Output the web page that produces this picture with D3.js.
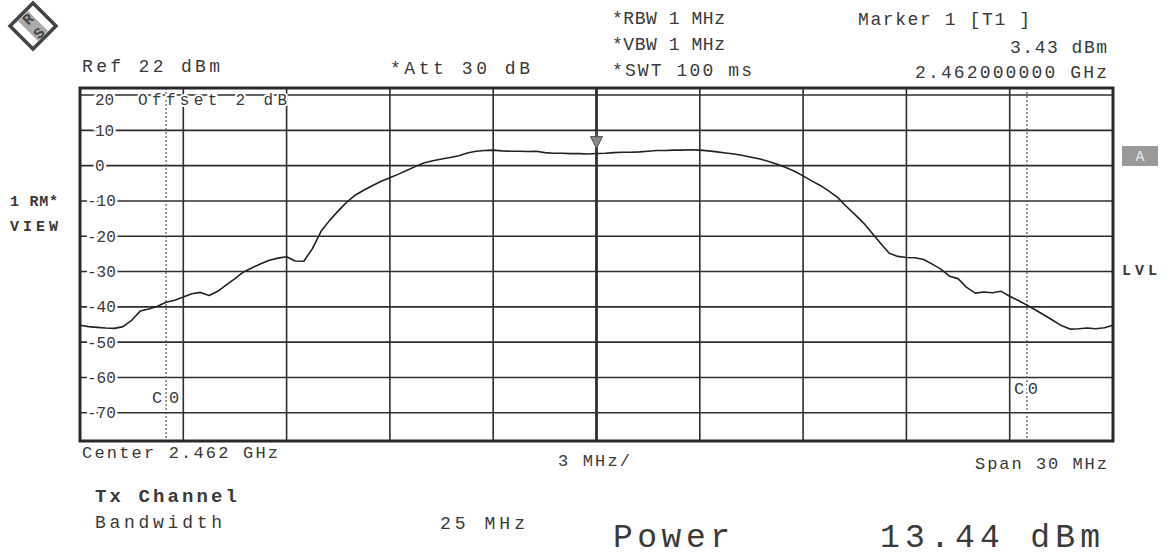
<!DOCTYPE html>
<html><head><meta charset="utf-8">
<script src="https://cdn.jsdelivr.net/npm/d3@7"></script>
<style>html,body{margin:0;padding:0;background:#fff;}svg{display:block;}</style>
</head><body>
<svg id="c" width="1165" height="557"></svg>
<script>
// Frequency offset from centre (MHz), span 30 MHz around 2.462 GHz
const freqMHz = [-15,-14.75,-14.5,-14.25,-14,-13.75,-13.5,-13.25,-13,-12.75,-12.5,-12.25,-12,-11.75,-11.5,-11.25,-11,-10.75,-10.5,-10.25,-10,-9.75,-9.5,-9.25,-9,-8.75,-8.5,-8.25,-8,-7.75,-7.5,-7.25,-7,-6.75,-6.5,-6.25,-6,-5.75,-5.5,-5.25,-5,-4.75,-4.5,-4.25,-4,-3.75,-3.5,-3.25,-3,-2.75,-2.5,-2.25,-2,-1.75,-1.5,-1.25,-1,-0.75,-0.5,-0.25,0,0.25,0.5,0.75,1,1.25,1.5,1.75,2,2.25,2.5,2.75,3,3.25,3.5,3.75,4,4.25,4.5,4.75,5,5.25,5.5,5.75,6,6.25,6.5,6.75,7,7.25,7.5,7.75,8,8.25,8.5,8.75,9,9.25,9.5,9.75,10,10.25,10.5,10.75,11,11.25,11.5,11.75,12,12.25,12.5,12.75,13,13.25,13.5,13.75,14,14.25,14.5,14.75,15];
// Trace level (dBm)
const levelDbm = [-45.2,-45.6,-45.8,-46.0,-46.1,-45.6,-43.8,-41.2,-40.6,-39.8,-38.7,-38.1,-37.2,-36.3,-35.9,-36.8,-35.6,-33.8,-32.0,-30.1,-28.9,-27.8,-26.8,-26.2,-25.8,-27.0,-27.1,-23.5,-18.6,-15.5,-12.8,-10.3,-8.3,-6.9,-5.6,-4.4,-3.4,-2.4,-1.3,-0.2,0.8,1.4,1.9,2.3,2.8,3.6,4.1,4.3,4.4,4.2,4.1,4.1,4.0,4.1,3.7,3.5,3.5,3.4,3.4,3.3,3.43,3.5,3.7,3.8,3.8,3.9,4.1,4.3,4.3,4.4,4.4,4.5,4.4,4.2,3.9,3.6,3.3,2.9,2.4,1.9,1.2,0.4,-0.5,-1.6,-2.9,-4.3,-5.6,-7.2,-9.0,-11.5,-13.8,-16.2,-19.1,-22.0,-24.8,-25.7,-26.0,-26.1,-26.6,-27.9,-29.3,-31.3,-32.0,-34.5,-36.1,-35.8,-36.0,-35.6,-37.0,-38.2,-39.5,-40.9,-42.3,-43.8,-45.3,-46.3,-46.2,-46.0,-46.2,-45.9,-45.2];
const yTickLabels = [20,10,0,-10,-20,-30,-40,-50,-60,-70];
const xGridMHz = [-12,-9,-6,-3,0,3,6,9,12];
const channelEdgesMHz = [-12.5, 12.5];
const markerMHz = 0, markerDbm = 3.43;

const svg = d3.select("#c");
const FONT = "'Liberation Mono','DejaVu Sans Mono',monospace";
const INK = "#3a3a3a";
const L = 80, R = 1113, T = 88, B = 441;
const x = d3.scaleLinear().domain([-15, 15]).range([L, R]);
const y = d3.scaleLinear().domain([-78, 22]).range([B, T]);

function txt(s, x0, x1, base, size, opts = {}) {
  const t = svg.append("text").attr("x", x0).attr("y", base).text(s)
    .attr("font-family", FONT).attr("font-size", size)
    .attr("fill", opts.fill || INK).attr("font-weight", opts.weight || "normal");
  if (x1 != null) t.attr("textLength", x1 - x0).attr("lengthAdjust", "spacing");
  if (opts.halo) t.attr("stroke", "#fff").attr("stroke-width", opts.halo).attr("paint-order", "stroke");
  return t;
}

// Logo
const lg = svg.append("g").attr("transform", "translate(33,26)");
lg.append("path").attr("d", "M0,-23 L23,0 L0,23 L-23,0 Z").attr("fill", "#fff").attr("stroke", "#444").attr("stroke-width", 3.5);
lg.append("path").attr("d", "M-15,-5 L5,15 L15,5 L-5,-15 Z").attr("fill", "#aaa").attr("stroke", "none");
lg.append("text").attr("x", -5).attr("y", -2).attr("font-family", FONT).attr("font-size", 15).attr("font-weight", "bold").attr("fill", "#444").attr("text-anchor", "middle").attr("transform", "rotate(-45,-5,-7)").text("R");
lg.append("text").attr("x", 6).attr("y", 12).attr("font-family", FONT).attr("font-size", 15).attr("font-weight", "bold").attr("fill", "#444").attr("text-anchor", "middle").attr("transform", "rotate(-45,6,7)").text("S");

// Header texts
txt("Ref  22 dBm", 82, 220, 72, 18);
txt("*Att  30 dB", 390, 530, 74, 18);
txt("*RBW 1 MHz", 612, 725, 24, 18);
txt("*VBW 1 MHz", 612, 725, 50, 18);
txt("*SWT 100 ms", 612, 752, 76, 18);
txt("Marker 1 [T1 ]", 858, 1030, 25, 18);
txt(markerDbm.toFixed(2) + " dBm", 1010, 1107, 53, 18);
txt("2.462000000 GHz", 915, 1107, 78, 18);

// Grid
const grid = svg.append("g");
grid.selectAll("line.h").data(yTickLabels).join("line")
  .attr("x1", L).attr("x2", R).attr("y1", d => y(d)).attr("y2", d => y(d))
  .attr("stroke", "#2e2e2e").attr("stroke-width", 1.6);
grid.selectAll("line.v").data(xGridMHz).join("line")
  .attr("y1", T).attr("y2", B).attr("x1", d => x(d)).attr("x2", d => x(d))
  .attr("stroke", "#2e2e2e").attr("stroke-width", d => d === 0 ? 2.8 : 1.6);

// Channel edge (C0) lines
grid.selectAll("line.c0").data(channelEdgesMHz).join("line")
  .attr("y1", T).attr("y2", B).attr("x1", d => x(d)).attr("x2", d => x(d))
  .attr("stroke", "#555").attr("stroke-width", 1.2).attr("stroke-dasharray", "2,2");

// Frame
svg.append("rect").attr("x", L).attr("y", T).attr("width", R - L).attr("height", B - T)
  .attr("fill", "none").attr("stroke", "#2a2a2a").attr("stroke-width", 3);

// Y labels
yTickLabels.forEach(v => {
  const s = String(v);
  const x0 = v < 0 ? 87 : 95;
  txt(s, x0, null, y(v) + (v === 20 ? 10 : 5.5), 16, { halo: 5 });
});
txt("Offset  2 dB", 138, 287, 105, 16, { halo: 4 });

// C0 labels
txt("C0", x(channelEdgesMHz[0]) - 14, x(channelEdgesMHz[0]) + 13, 403, 17, { halo: 4 });
txt("C0", x(channelEdgesMHz[1]) - 13, x(channelEdgesMHz[1]) + 11, 394, 17, { halo: 4 });

// Trace
const line = d3.line().x((d, i) => x(freqMHz[i])).y(d => y(d));
svg.append("path").datum(levelDbm).attr("d", line)
  .attr("fill", "none").attr("stroke", "#222").attr("stroke-width", 1.6).attr("stroke-linejoin", "round");

// Marker symbol
const mx = x(markerMHz), my = y(markerDbm);
svg.append("path").attr("d", `M${mx - 6},${my - 17} L${mx + 6},${my - 17} L${mx},${my - 5} Z`)
  .attr("fill", "#888").attr("stroke", "#555").attr("stroke-width", 1);
svg.append("line").attr("x1", mx).attr("x2", mx).attr("y1", my - 22).attr("y2", my - 17).attr("stroke", "#555").attr("stroke-width", 1.5);

// Side labels
txt("1 RM*", 10, 58, 206, 15, { weight: "bold" });
txt("VIEW", 10, 58, 231, 15, { weight: "bold" });
txt("LVL", 1122, 1157, 275, 15, { weight: "bold" });
svg.append("rect").attr("x", 1122).attr("y", 146).attr("width", 36).attr("height", 20).attr("fill", "#9a9a9a");
svg.append("text").attr("x", 1140).attr("y", 161).attr("text-anchor", "middle").attr("font-family", FONT)
  .attr("font-size", 15).attr("fill", "#e8e8e8").text("A");

// Footer texts
txt("Center 2.462 GHz", 82, 278, 458, 17);
txt("3 MHz/", 558, 630, 466, 17);
txt("Span 30 MHz", 975, 1107, 469, 17);
txt("Tx Channel", 95, 237, 502, 19, { weight: "bold" });
txt("Bandwidth", 95, 222, 528, 18);
txt("25 MHz", 440, 525, 529, 18);
txt("Power", 613, 730, 547, 33);
txt("13.44 dBm", 880, 1100, 547, 33);
</script>
</body></html>
